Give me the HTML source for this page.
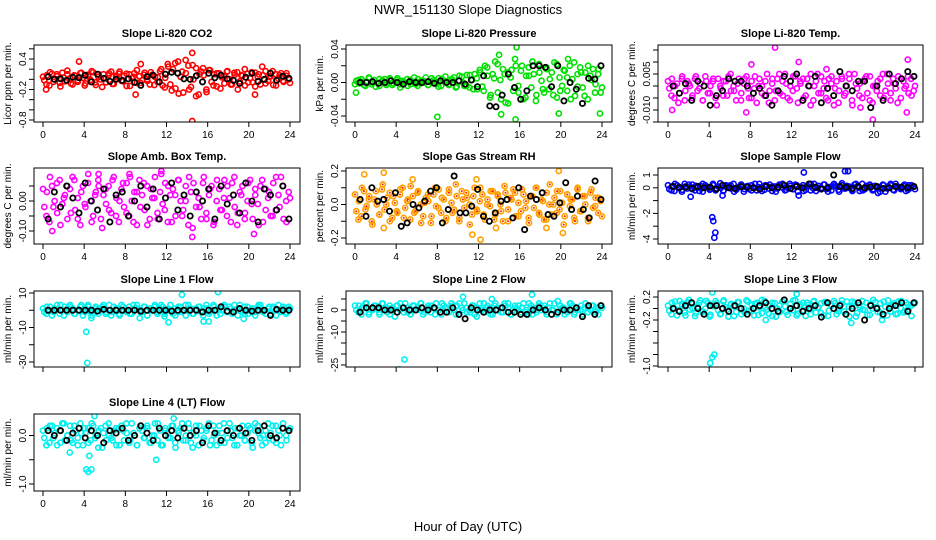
<!DOCTYPE html>
<html><head><meta charset="utf-8">
<style>
html,body{margin:0;padding:0;background:#fff;}
svg{display:block;font-family:"Liberation Sans",sans-serif;}
</style></head>
<body>
<svg id="chart" width="936" height="540" viewBox="0 0 936 540" xmlns="http://www.w3.org/2000/svg">
<text x="468" y="14" font-size="13" text-anchor="middle">NWR_151130  Slope Diagnostics</text>
<text x="468" y="531" font-size="13" text-anchor="middle">Hour of Day (UTC)</text>
</svg>
<script>
// ---- data arrays (values per panel) ----
const xTicks = [0,4,8,12,16,20,24];
const co2Vals = [0.05,-0.1,0.14,-0.05,0.1,-0.14,0.03,0.17,-0.08,0.08,-0.02,0.13,-0.12,0.06,0.16,-0.06,0.1,-0.15,0.02,0.12,-0.09,0.07,0.15,-0.04,0.11,-0.13,0.05,0.18,-0.07,0.09,-0.03,0.14,-0.11,0.04,0.2,-0.16,0.25,-0.22,0.32,-0.28,0.15,0.38,-0.2,0.28,-0.33,0.1,0.22,-0.25,0.18,-0.12,0.12,-0.18,0.06,0.16,-0.1,0.13,-0.2,0.08,0.2,-0.06,0.14,-0.14,0.1,0.25,-0.08,0.05,0.16,-0.12,0.08,-0.03,0.12,-0.07];
const co2ValsB = [-0.02,0.08,-0.12,0.11,0.0,0.06,-0.07,0.13,-0.04,0.1,0.02,-0.1,0.07,-0.05,0.12,0.03,-0.08,0.09,-0.01,0.14,-0.11,0.05,0.0,0.1,-0.06,0.08,0.15,-0.09,0.04,0.11,-0.03,0.07,-0.13,0.1,0.02,0.12,-0.07,0.06,-0.02,0.13,0.0,-0.1,0.09,0.05,-0.05,0.16,-0.12,0.03,0.3,-0.1,0.2,-0.18,0.35,0.05,-0.26,0.12,0.27,-0.15,0.0,0.22,-0.3,0.15,0.08,-0.2,0.18,-0.05,0.1,-0.14,0.12,0.04,-0.08,0.15,0.0,-0.1,0.09,0.14,-0.04,0.07,-0.12,0.11,0.02,-0.06,0.13,0.05,-0.1,0.08,0.16,-0.03,0.06,-0.11,0.1,0.01,0.12,-0.05,0.07,0.0];
const co2Out = [[14.5,0.52],[14.5,-0.82],[9.5,0.3],[20.6,-0.3],[0.3,-0.2],[3.5,0.35],[9.0,-0.3]];
const co2Black = [0.05,0.0,0.01,-0.02,0.04,0.03,0.08,-0.05,0.1,0.02,-0.04,0.0,-0.02,0.01,-0.06,-0.12,0.05,0.08,-0.05,0.1,0.14,0.12,0.01,0.0,0.07,-0.05,0.12,0.03,0.08,0.01,-0.02,-0.08,0.04,0.12,-0.04,0.0,0.12,-0.02,0.06,0.02];
const presVals = [-0.002,0.003,0.001,-0.004,0.006,0.0,-0.005,0.004,0.002,-0.003,0.005,-0.001,0.003,-0.006,0.001,0.004,-0.002,0.006,-0.004,0.002,0.0,-0.003,0.005,0.001,-0.005,0.004,0.007,-0.002,0.003,-0.006,0.008,0.0,-0.004,0.009,-0.008,0.005,0.012,-0.01,0.018,-0.015,0.005,0.022,-0.02,0.01,-0.025,0.015,0.028,-0.012,0.02,-0.018,0.008,0.025,-0.022,0.012,-0.008,0.018,0.004,-0.015,0.022,-0.01,0.015,0.006,-0.02,0.024,-0.005,0.012,-0.016,0.02,0.003,-0.012,0.016,-0.006];
const presValsB = [0.002,-0.001,0.004,-0.003,0.001,0.005,-0.002,0.003,0.0,-0.004,0.002,0.004,-0.001,0.003,-0.003,0.001,0.005,-0.002,0.002,0.0,-0.004,0.003,0.001,-0.002,0.004,-0.001,0.002,0.006,-0.003,0.001,0.003,-0.002,0.005,-0.004,0.002,0.0,-0.003,0.004,0.006,-0.005,0.002,0.007,-0.004,0.009,-0.006,0.003,0.01,-0.008,0.015,-0.005,0.02,0.008,-0.018,0.01,0.025,-0.012,0.003,0.016,-0.024,0.012,0.006,-0.01,0.02,-0.004,0.014,-0.02,0.008,0.018,-0.006,0.01,-0.015,0.022,0.002,-0.012,0.016,-0.008,0.012,0.024,-0.018,0.006,-0.004,0.014,-0.01,0.02,0.004,-0.016,0.01,0.018,-0.006,0.012,-0.02,0.008,0.016,-0.002,0.01,-0.012];
const presOut = [[8,-0.041],[15.7,0.042],[14,0.033],[15.6,-0.044],[19.8,-0.037],[23.8,-0.037],[0.1,-0.012],[20.7,0.028],[14.2,-0.038]];
const presBlack = [0.0,0.0,0.001,-0.001,0.0,0.002,0.0,-0.002,0.001,0.0,0.0,0.001,-0.001,0.002,0.0,0.0,0.002,-0.002,0.003,-0.005,0.008,-0.028,-0.029,-0.015,0.01,-0.006,-0.02,-0.01,0.02,0.02,0.018,-0.005,0.02,-0.022,0.0,-0.008,-0.025,0.005,0.004,0.02];
const tempVals = [0.002,-0.004,0.0,-0.007,0.003,-0.002,0.001,-0.005,0.004,-0.001,-0.006,0.002,-0.003,0.003,-0.008,0.0,0.002,-0.004,0.005,-0.002,0.001,-0.006,0.003,-0.001,-0.005,0.004,0.0,-0.003,0.002,-0.007,0.003,-0.002,0.005,-0.004,0.001,-0.006,0.004,-0.001,0.002,-0.005,0.003,-0.008,0.0,0.005,-0.003,0.002,-0.006,0.004,-0.001,-0.007,0.003,-0.003,0.005,-0.008,0.001,-0.004,0.002,0.004,-0.006,0.0,-0.002,0.003,-0.005,0.005,-0.003,0.001,-0.007,0.003,-0.001,0.004,-0.004,0.0];
const tempValsB = [-0.001,0.003,-0.005,0.001,-0.003,0.004,-0.006,0.002,0.0,-0.004,0.003,-0.002,0.001,-0.006,0.004,-0.003,0.0,0.002,-0.005,0.003,-0.001,-0.004,0.002,0.004,-0.002,0.0,-0.006,0.003,-0.003,0.001,0.004,-0.005,0.002,-0.001,-0.007,0.003,0.0,-0.004,0.005,-0.002,0.001,-0.006,0.003,-0.003,0.002,0.005,-0.005,0.0,-0.002,0.004,-0.007,0.001,0.003,-0.004,0.0,0.005,-0.006,0.002,-0.003,0.004,-0.001,-0.005,0.003,0.001,-0.008,0.002,-0.002,0.004,-0.004,0.0,0.003,-0.006,0.005,-0.001,0.001,-0.005,0.003,-0.003,0.004,-0.007,0.0,0.002,-0.004,0.005,-0.002,0.001,-0.006,0.003,-0.001,0.004,-0.005,0.002,0.0,-0.003,0.003,-0.002];
const tempOut = [[10.4,0.016],[12.7,0.01],[8.1,0.009],[23.3,0.011],[19.9,-0.014],[7.6,-0.011],[0.4,-0.01],[23.2,-0.011],[18.7,-0.009],[15.4,0.007]];
const tempBlack = [0.0,-0.003,0.001,-0.006,0.002,0.0,-0.008,-0.004,-0.002,0.003,0.002,0.002,0.0,-0.003,-0.001,-0.004,-0.008,-0.002,0.004,0.002,0.005,-0.006,0.0,0.004,-0.007,-0.001,-0.004,0.006,0.0,-0.002,0.002,0.002,-0.009,0.0,-0.006,0.005,0.001,0.003,0.006,0.004];
const ambVals = [0.04,-0.05,0.08,-0.02,0.06,-0.08,0.01,0.05,-0.04,0.07,-0.06,0.03,-0.01,0.09,-0.07,0.02,0.05,-0.09,0.04,-0.03,0.07,-0.05,0.0,0.06,-0.04,0.08,-0.07,0.03,-0.02,0.06,-0.08,0.04,0.01,-0.06,0.09,-0.03,0.05,-0.07,0.02,0.07,-0.05,0.0,0.08,-0.09,0.03,-0.02,0.06,-0.06,0.04,-0.08,0.07,-0.03,0.01,0.05,-0.07,0.08,-0.04,0.02,-0.06,0.06,-0.01,0.04,-0.08,0.07,-0.03,0.03,-0.05,0.08,-0.02,0.05,-0.07,0.01];
const ambValsB = [-0.02,0.03,-0.07,0.05,0.0,-0.04,0.07,-0.01,0.02,-0.06,0.04,0.08,-0.03,0.01,-0.08,0.05,-0.02,0.06,0.0,-0.05,0.03,0.07,-0.06,0.02,-0.01,0.05,-0.04,0.08,0.01,-0.07,0.04,-0.02,0.06,-0.05,0.0,0.03,-0.08,0.07,0.02,-0.03,0.05,-0.06,0.01,0.08,-0.04,0.03,-0.01,0.06,-0.07,0.02,0.04,-0.05,0.07,0.0,-0.03,0.05,-0.08,0.03,0.06,-0.02,0.01,-0.06,0.08,-0.04,0.02,0.05,-0.07,0.0,0.04,-0.03,0.07,-0.05,0.01,0.06,-0.02,-0.08,0.03,0.05,-0.04,0.0,0.07,-0.06,0.02,-0.01,0.05,-0.07,0.04,0.01,-0.05,0.06,-0.03,0.02,0.08,-0.06,0.0,0.03];
const ambOut = [[11.5,0.1],[14.5,-0.12],[8.4,0.09],[0.9,-0.1],[20.5,-0.11],[5.4,0.09]];
const ambBlack = [-0.06,0.03,-0.02,0.05,0.01,-0.04,0.06,0.0,-0.03,0.04,-0.07,0.02,0.03,-0.05,0.0,0.05,-0.02,0.04,-0.06,0.01,0.06,-0.03,0.02,-0.05,0.03,0.0,0.04,-0.06,0.05,-0.01,0.02,-0.04,0.06,0.0,-0.07,0.04,0.02,-0.03,0.05,-0.06];
const rhVals = [0.06,-0.09,0.1,-0.03,0.03,-0.12,0.08,-0.06,0.12,0.0,-0.1,0.05,-0.04,0.09,-0.08,0.02,0.11,-0.05,0.07,-0.11,0.01,0.06,-0.07,0.1,-0.02,0.04,-0.1,0.09,-0.05,0.12,-0.08,0.03,0.07,-0.12,0.05,-0.03,0.1,-0.06,0.0,0.08,-0.09,0.06,-0.04,0.11,-0.1,0.03,0.07,-0.07,0.09,-0.02,-0.11,0.05,0.1,-0.06,0.02,-0.09,0.12,0.0,-0.05,0.08,-0.12,0.06,0.03,-0.08,0.1,-0.04,0.05,-0.1,0.09,-0.01,0.04,-0.07];
const rhValsB = [-0.04,0.02,-0.07,0.08,-0.01,0.05,-0.1,0.03,0.0,-0.06,0.09,-0.03,0.04,0.07,-0.08,0.01,-0.05,0.06,0.1,-0.02,0.03,-0.09,0.05,-0.04,0.08,0.0,-0.07,0.04,0.02,-0.11,0.06,-0.01,0.09,-0.05,0.03,-0.08,0.07,0.01,-0.03,0.05,-0.1,0.08,-0.02,0.04,0.0,-0.06,0.1,-0.04,0.02,0.06,-0.09,0.03,-0.01,0.08,-0.06,0.05,0.0,-0.1,0.07,-0.03,0.04,0.09,-0.07,0.01,-0.04,0.06,0.02,-0.08,0.05,-0.02,0.1,-0.05,0.03,-0.09,0.07,0.0,-0.06,0.04,0.08,-0.03,0.01,-0.07,0.06,-0.01,0.03,-0.1,0.09,-0.04,0.05,0.0,-0.08,0.07,-0.02,0.04,-0.05,0.02];
const rhOut = [[0.9,0.18],[2.8,0.19],[5.6,0.15],[11.8,0.15],[11.4,-0.18],[12.2,-0.21],[19.8,0.2],[20.2,-0.17],[2.8,-0.14],[13.7,-0.14],[18.6,-0.14]];
const rhBlack = [0.03,-0.07,0.1,0.02,0.03,-0.04,0.07,-0.13,-0.11,0.0,-0.02,0.02,0.08,0.1,-0.11,-0.03,0.17,-0.05,-0.05,-0.01,0.09,-0.07,-0.1,-0.05,0.02,0.03,-0.08,0.1,-0.15,0.05,0.03,0.07,-0.06,-0.07,0.01,0.13,-0.03,0.05,-0.03,-0.08,0.14,0.03];
const sfVals = [0.2,-0.2,0.3,0.0,-0.3,0.1,0.25,-0.1,0.15,-0.25,0.3,0.05,-0.15,0.2,-0.05,0.35,-0.2,0.1,0.2,-0.3,0.0,0.25,-0.1,0.15,-0.2,0.3,0.05,-0.25,0.2,-0.05,0.1,-0.3,0.25,0.0,-0.15,0.3,-0.1,0.2,0.05,-0.25,0.15,-0.2,0.3,0.0,-0.1,0.25,-0.3,0.1,0.2,-0.15,0.35,-0.05,0.1,-0.25,0.3,0.0,-0.2,0.15,0.25,-0.1,0.05,-0.3,0.2,-0.05,0.3,-0.2,0.1,0.0,0.25,-0.15,0.2,-0.1];
const sfValsB = [-0.1,0.1,-0.25,0.2,0.05,-0.15,0.3,-0.05,0.1,0.25,-0.2,0.0,0.15,-0.3,0.2,0.05,-0.1,0.3,-0.2,0.1,0.0,-0.25,0.2,0.15,-0.05,0.3,-0.15,0.05,0.25,-0.3,0.1,-0.1,0.2,0.0,-0.2,0.3,0.05,-0.15,0.15,0.25,-0.25,0.1,-0.05,0.2,0.3,-0.2,0.0,0.15,-0.1,0.25,-0.3,0.05,0.2,-0.15,0.1,0.3,-0.05,-0.25,0.15,0.0,0.25,-0.1,0.05,-0.2,0.3,0.1,-0.3,0.2,-0.05,0.15,0.0,-0.15,0.25,0.1,-0.25,0.3,-0.1,0.05,0.2,-0.2,0.15,0.0,-0.05,0.25,-0.3,0.1,0.2,-0.15,0.3,0.05,-0.1,0.15,-0.25,0.2,0.0,0.1];
const sfOut = [[4.5,-3.9],[4.6,-3.5],[4.3,-2.3],[4.4,-2.6],[13.2,1.2],[17.2,1.3],[17.5,1.3],[2.2,-0.7],[5.3,-0.6],[12.7,-0.6],[20.4,-0.4]];
const sfBlack = [0.1,0.0,0.05,-0.05,0.1,0.0,0.05,-0.1,0.2,0.0,-0.05,0.1,0.05,0.0,-0.1,0.1,0.0,0.05,0.2,-0.05,0.1,0.0,0.3,0.05,-0.1,0.0,1.0,0.1,0.05,-0.05,0.1,0.0,0.05,0.1,-0.05,0.0,0.1,0.05,0.0,0.1];
const l1Vals = [1,-2,2,-1,0,3,-3,1,2,-2,0,3,-1,2,-3,1,0,2,-2,3,-1,1,-3,2,0,-2,3,1,-1,2,-3,0,2,-1,3,-2,1,0,-3,2,-1,3,0,-2,1,2,-3,1,-1,3,0,-2,2,-1,1,3,-3,0,2,-2,1,-1,3,0,-2,2,1,-3,0,2,-1,1];
const l1ValsB = [-1,2,0,-3,1,3,-2,0,2,-1,3,1,-2,0,2,-3,1,3,-1,0,2,-2,1,3,-1,0,-3,2,1,-2,3,0,-1,2,-2,1,3,0,-1,2,-3,1,0,3,-2,1,2,-1,0,3,-2,1,-1,2,0,-3,3,1,-2,0,2,-1,1,3,-2,0,2,-3,1,0,3,-1,2,-2,0,1,3,-1,-2,2,0,1,-3,2,3,-1,0,1,-2,2,0,3,-1,1,-2,2];
const l1Out = [[4.2,-12.5],[4.3,-30.5],[13.5,9],[17.0,10.5],[9.4,-4.5],[15.6,-6.5],[16.1,-6.5],[11.8,-3.5],[4.7,-4.5],[19.5,-5],[12.2,-7]];
const l1Black = [0,0,0,0,0,0,0,0,-0.5,0.5,0,0,0,0,0,-0.5,0,0,0,0,-0.5,0,0,0,0,-1,0,0,2,-0.5,-1,1,0,-0.5,0,0,-3,0.5,0,0];
const l2Vals = [2,-1,1,3,-2,0,2,-1,3,1,-2,0,2,3,-1,1,-2,2,0,3,-1,1,2,-2,0,3,1,-1,2,-2,3,0,1,-1,2,-3,0,3,1,-2,2,0,-1,3,1,-2,2,0,1,-1,3,-2,0,2,1,-1,3,0,-2,2,1,-1,3,-2,0,2,1,-1,2,0,-2,1];
const l2ValsB = [0,2,-2,1,3,-1,0,2,1,-2,3,0,-1,2,1,-3,2,0,1,3,-1,-2,2,0,1,3,-2,0,2,-1,1,3,0,-2,2,1,-1,3,0,2,-2,1,3,-1,0,2,-2,1,3,0,-1,2,1,-2,3,0,1,-1,2,3,-2,0,1,2,-1,3,0,-2,2,1,-1,3,0,2,-2,1,0,3,-1,2,1,-2,0,3,2,-1,1,0,-2,3,1,0,2,-1,1,2];
const l2Out = [[4.2,10],[4.3,-27],[4.8,-22.5],[10.5,6],[13.3,5],[17.2,7],[19.7,4]];
const l2Black = [-1,1,1,1,0,0,-1,1,0,0,1,0,1,-1,-1,1,-2,-4,1,0,-1,0,0,1,-1,-1,-2,-2,0,1,0,-2,-1,0,0,1,-3,2,-2,2];
const l3Vals = [0.05,-0.1,0.12,-0.03,0.08,-0.12,0.15,0.0,-0.08,0.1,-0.05,0.13,-0.14,0.04,0.09,-0.1,0.14,-0.02,0.06,-0.13,0.11,0.0,-0.07,0.12,-0.04,0.08,-0.11,0.15,0.02,-0.09,0.1,-0.14,0.05,0.12,-0.06,0.0,0.14,-0.12,0.07,-0.03,0.1,-0.1,0.13,0.02,-0.08,0.11,-0.13,0.05,0.09,-0.05,0.14,-0.1,0.03,0.12,-0.14,0.06,-0.02,0.1,-0.11,0.15,0.0,-0.07,0.12,-0.12,0.04,0.09,-0.09,0.13,-0.04,0.07,-0.13,0.1];
const l3ValsB = [-0.04,0.1,0.0,-0.12,0.13,0.05,-0.07,0.11,-0.02,0.08,-0.13,0.03,0.14,-0.06,0.0,0.1,-0.11,0.06,0.13,-0.03,-0.09,0.12,0.02,-0.14,0.08,0.04,-0.06,0.11,-0.1,0.0,0.14,-0.04,0.07,-0.12,0.1,0.02,-0.08,0.13,-0.02,0.05,-0.13,0.09,0.0,-0.06,0.12,0.04,-0.11,0.08,-0.03,0.14,-0.09,0.03,0.1,-0.13,0.06,-0.01,0.12,-0.07,0.02,0.09,-0.12,0.11,-0.04,0.05,0.13,-0.1,0.0,0.08,-0.05,0.12,-0.14,0.04,0.1,-0.08,0.02,0.13,-0.03,-0.11,0.07,0.0,0.11,-0.06,0.09,-0.12,0.03,0.14,-0.05,0.06,-0.1,0.12,0.0,-0.07,0.1,-0.02,0.05,0.08];
const l3Out = [[4.3,0.28],[4.1,-0.95],[4.3,-0.85],[4.5,-0.8],[17.8,-0.25],[20.8,-0.2],[9.5,-0.2],[12.5,0.25]];
const l3Black = [0.0,-0.05,0.05,0.1,0.0,-0.1,0.05,0.05,0.0,-0.05,0.05,0.0,-0.1,0.0,0.05,0.1,0.0,-0.05,0.15,0.0,0.05,-0.05,0.0,0.05,-0.15,0.1,0.0,0.05,-0.1,0.0,0.1,-0.2,0.05,0.0,-0.1,0.0,0.05,0.1,-0.05,0.1];
const l4Vals = [0.1,-0.2,0.2,-0.05,0.15,-0.15,0.25,0.0,-0.1,0.2,-0.2,0.05,0.15,-0.15,0.25,-0.05,0.1,-0.25,0.2,0.0,-0.1,0.15,-0.2,0.1,0.25,-0.1,0.05,-0.2,0.2,-0.05,0.15,-0.15,0.0,0.25,-0.2,0.1,-0.05,0.2,-0.15,0.05,0.25,-0.1,0.15,-0.25,0.0,0.2,-0.1,0.1,-0.2,0.2,0.05,-0.15,0.25,-0.05,0.1,-0.2,0.15,0.0,-0.1,0.2,-0.15,0.25,0.05,-0.2,0.1,-0.05,0.2,-0.15,0.0,0.25,-0.1,0.15];
const l4ValsB = [-0.05,0.15,-0.15,0.2,0.05,-0.2,0.1,0.25,-0.1,0.0,0.2,-0.15,0.1,-0.05,0.25,-0.2,0.05,0.15,-0.1,0.2,0.0,-0.25,0.15,0.05,-0.1,0.25,-0.05,0.1,-0.2,0.15,0.2,-0.1,0.05,-0.15,0.25,0.0,-0.2,0.15,0.1,-0.05,0.2,-0.15,0.0,0.25,-0.1,0.1,-0.2,0.15,0.05,-0.05,0.2,-0.25,0.1,0.15,-0.1,0.0,0.25,-0.15,0.05,0.2,-0.2,0.1,-0.05,0.15,0.25,-0.1,0.0,-0.2,0.2,0.05,-0.15,0.1,0.25,-0.05,0.15,-0.2,0.0,0.2,-0.1,0.05,0.15,-0.25,0.1,0.2,-0.05,0.0,-0.15,0.25,0.05,-0.1,0.2,0.1,-0.2,0.15,0.0,0.1];
const l4Out = [[4.2,-0.7],[4.4,-0.75],[4.7,-0.7],[4.5,-0.42],[5.0,0.4],[11.0,-0.5],[19.8,-1.23],[12.7,0.35],[2.6,-0.35]];
const l4Black = [0.1,0.0,0.1,-0.1,0.05,0.15,-0.05,0.1,0.0,-0.15,0.1,0.05,0.15,-0.1,0.0,0.2,0.05,-0.1,0.15,0.0,0.1,-0.05,0.15,0.0,0.1,-0.15,0.2,0.05,-0.1,0.1,0.0,0.15,0.05,-0.1,0.1,0.2,0.0,-0.05,0.15,0.1];

// ---- layout ----
const cols=[{l:34,r:300,x0:43,x24:290},{l:346,r:612,x0:355,x24:602},{l:658,r:923,x0:668,x24:915}];
const rows=[{t:45,b:122},{t:168,b:244},{t:291,b:367},{t:414,b:491}];
const panels=[
 {key:'co2',title:'Slope Li-820 CO2',ylab:'Licor ppm per min.',c:0,r:0,color:'#ff0000',vals:co2Vals,valsB:co2ValsB,out:co2Out,blk:co2Black,ya:0.4,ypa:59,yb:-0.8,ypb:120,ticks:[-0.8,-0.6,-0.4,-0.2,0,0.2,0.4,0.6],labels:[[-0.8,'-0.8'],[-0.2,'-0.2'],[0.4,'0.4']]},
 {key:'pressure',title:'Slope Li-820 Pressure',ylab:'kPa per min.',c:1,r:0,color:'#00e000',vals:presVals,valsB:presValsB,out:presOut,blk:presBlack,ya:0.04,ypa:49,yb:-0.04,ypb:116,ticks:[-0.04,-0.02,0,0.02,0.04],labels:[[-0.04,'-0.04'],[0,'0.00'],[0.04,'0.04']]},
 {key:'temp',title:'Slope Li-820 Temp.',ylab:'degrees C per min.',c:2,r:0,color:'#ff00ff',vals:tempVals,valsB:tempValsB,out:tempOut,blk:tempBlack,ya:0.005,ypa:74,yb:-0.010,ypb:110,ticks:[-0.015,-0.01,-0.005,0,0.005,0.01,0.015],labels:[[-0.010,'-0.010'],[0,'0.000'],[0.005,'0.005']]},
 {key:'ambbox',title:'Slope Amb. Box Temp.',ylab:'degrees C per min.',c:0,r:1,color:'#ff00ff',vals:ambVals,valsB:ambValsB,out:ambOut,blk:ambBlack,ya:0.05,ypa:186,yb:-0.10,ypb:231,ticks:[-0.1,-0.05,0,0.05],labels:[[-0.1,'-0.10'],[0,'0.00'],[0.05,'0.05']]},
 {key:'rh',title:'Slope Gas Stream RH',ylab:'percent per min.',c:1,r:1,color:'#ffa000',vals:rhVals,valsB:rhValsB,out:rhOut,blk:rhBlack,ya:0.2,ypa:171,yb:-0.2,ypb:238,ticks:[-0.2,-0.1,0,0.1,0.2],labels:[[-0.2,'-0.2'],[0,'0.0'],[0.2,'0.2']]},
 {key:'sampleflow',title:'Slope Sample Flow',ylab:'ml/min per min.',c:2,r:1,color:'#0000ff',vals:sfVals,valsB:sfValsB,out:sfOut,blk:sfBlack,ya:1,ypa:175,yb:-4,ypb:239,ticks:[-4,-3,-2,-1,0,1],labels:[[-4,'-4'],[-3,'-3'],[-2,'-2'],[-1,'-1'],[0,'0'],[1,'1']]},
 {key:'line1',title:'Slope Line 1 Flow',ylab:'ml/min per min.',c:0,r:2,color:'#00f0f0',vals:l1Vals,valsB:l1ValsB,out:l1Out,blk:l1Black,ya:10,ypa:293,yb:-30,ypb:362,ticks:[-30,-20,-10,0,10],labels:[[-30,'-30'],[-10,'-10'],[10,'10']]},
 {key:'line2',title:'Slope Line 2 Flow',ylab:'ml/min per min.',c:1,r:2,color:'#00f0f0',vals:l2Vals,valsB:l2ValsB,out:l2Out,blk:l2Black,ya:0,ypa:310,yb:-25,ypb:365,ticks:[-25,-20,-15,-10,-5,0,5],labels:[[-25,'-25'],[-10,'-10'],[0,'0']]},
 {key:'line3',title:'Slope Line 3 Flow',ylab:'ml/min per min.',c:2,r:2,color:'#00f0f0',vals:l3Vals,valsB:l3ValsB,out:l3Out,blk:l3Black,ya:0.2,ypa:297,yb:-1.0,ypb:366,ticks:[-1,-0.8,-0.6,-0.4,-0.2,0,0.2],labels:[[-1,'-1.0'],[-0.6,'-0.6'],[-0.2,'-0.2'],[0.2,'0.2']]},
 {key:'line4',title:'Slope Line 4 (LT) Flow',ylab:'ml/min per min.',c:0,r:3,color:'#00f0f0',vals:l4Vals,valsB:l4ValsB,out:l4Out,blk:l4Black,ya:0,ypa:435.5,yb:-1.0,ypb:484,ticks:[-1,-0.5,0],labels:[[-1,'-1.0'],[-0.5,'-0.5'],[0,'0.0']]}
];

const NS='http://www.w3.org/2000/svg';
const svg=document.getElementById('chart');
function mk(tag,attrs,parent){const e=document.createElementNS(NS,tag);for(const k in attrs)e.setAttribute(k,attrs[k]);(parent||svg).appendChild(e);return e;}

panels.forEach(p=>{
  const C=cols[p.c],R=rows[p.r];
  const g=mk('g',{});
  
  
  const xs=h=>C.x0+(C.x24-C.x0)*h/24;
  const ys=v=>p.ypa+(v-p.ya)*(p.ypb-p.ypa)/(p.yb-p.ya);
  const clip=mk('clipPath',{id:'clip-'+p.key},g);
  mk('rect',{x:C.l,y:R.t,width:C.r-C.l,height:R.b-R.t},clip);
  const t=mk('text',{x:(C.l+C.r)/2,y:R.t-8,'font-size':11,'font-weight':'bold','text-anchor':'middle'},g);
  t.textContent=p.title;
  
  
  const yt=mk('text',{x:0,y:0,'font-size':10,'text-anchor':'middle',transform:`translate(${C.l-23},${(R.t+R.b)/2}) rotate(-90)`},g);
  yt.textContent=p.ylab;
  
  
  const pts=mk('g',{'clip-path':`url(#clip-${p.key})`,fill:'none'},g);
  
  
  [p.vals,p.valsB].forEach((arr,k)=>{
    const n=arr.length;
    arr.forEach((v,i)=>{
      const h=(i+(k?0.5:0))*24/(n-(k?0:1));
      const c=mk('circle',{cx:xs(Math.min(h,24)),cy:ys(v),r:2.6,stroke:p.color,'stroke-width':1.6},pts);
      
      
      if(p.key==='rh'){
        const d=mk('circle',{cx:xs(Math.min(h,24)),cy:ys(v),r:1,fill:'#ff2000'},pts);
        
        
      }
    });
  });
  p.out.forEach(o=>{
    const c=mk('circle',{cx:xs(o[0]),cy:ys(o[1]),r:2.6,stroke:p.color,'stroke-width':1.6},pts);
    
    
  });
  const m=p.blk.length;
  p.blk.forEach((v,i)=>{
    const h=0.5+i*23.4/(m-1);
    const c=mk('circle',{cx:xs(h),cy:ys(v),r:2.6,stroke:'#000','stroke-width':1.8},pts);
    
    
  });
  const box=mk('rect',{x:C.l,y:R.t,width:C.r-C.l,height:R.b-R.t,fill:'none',stroke:'#000','stroke-width':1},g);
  
  
  xTicks.forEach(h=>{
    mk('line',{x1:xs(h),x2:xs(h),y1:R.b,y2:R.b+5,stroke:'#000'},g);
    if(p.r!==2){
      const lt=mk('text',{x:xs(h),y:R.b+16,'font-size':10,'text-anchor':'middle'},g);
      lt.textContent=h;
      
      
    }
  });
  p.ticks.forEach(v=>{
    const y=ys(v); if(y<R.t-1||y>R.b+1) return;
    mk('line',{x1:C.l-5,x2:C.l,y1:y,y2:y,stroke:'#000'},g);
  });
  let lastTop=Infinity;
  p.labels.slice().sort((a,b)=>a[0]-b[0]).forEach(l=>{
    const y=ys(l[0]); const half=l[1].length*2.8;
    if(y+half>lastTop-2) return;
    lastTop=y-half;
    const lt=mk('text',{x:0,y:0,'font-size':10,'text-anchor':'middle',transform:`translate(${C.l-8},${y}) rotate(-90)`},g);
    lt.textContent=l[1];
    
    
  });
});
</script>
</body></html>
